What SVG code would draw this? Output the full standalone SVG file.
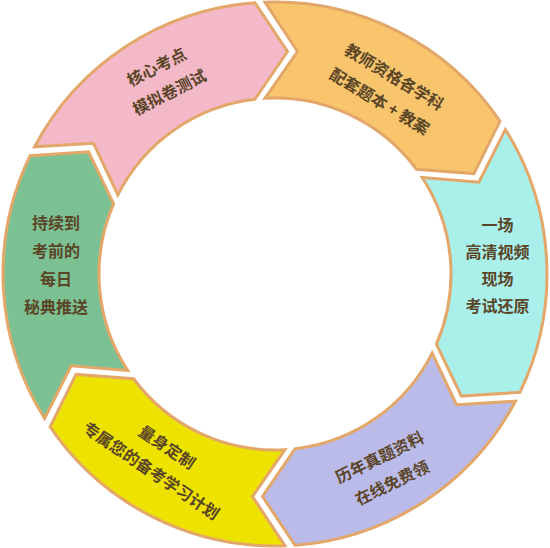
<svg xmlns="http://www.w3.org/2000/svg" xmlns:xlink="http://www.w3.org/1999/xlink" width="550" height="548" viewBox="0 0 550 548">
<style>
.seg{stroke:#E4A76A;stroke-width:3;stroke-linejoin:miter}
.t{font-family:"Noto Sans CJK SC","Noto Sans CJK TC",sans-serif;font-size:16px;font-weight:700;fill:#5A4527;text-anchor:middle}
</style>
<defs>
<path id="seg" d="M -10,-271.8 A 272 272 0 0 1 224.91,-152.95 L 198.94,-100.42 L 141.43,-104.75 A 176 176 0 0 0 -10,-175.7 L 22.5,-222.5 Z"/>
</defs>
<rect width="550" height="548" fill="#ffffff"/>
<g id="pink">
<use xlink:href="#seg" class="seg" fill="#F4B9C8" transform="translate(275 274) rotate(-60)"/>
<g transform="translate(163 79.7) rotate(-27)">
<text class="t" x="0" y="-8.3">核心考点</text>
<text class="t" x="0" y="20.2">模拟卷测试</text>
</g>
</g>
<g id="orange">
<use xlink:href="#seg" class="seg" fill="#F8C56D" transform="translate(275 274)"/>
<g transform="translate(387 89.2) rotate(31)">
<text class="t" x="0" y="-8.3">教师资格各学科</text>
<text class="t" x="0" y="20.2">配套题本 + 教案</text>
</g>
</g>
<g id="cyan">
<use xlink:href="#seg" class="seg" fill="#AAF0EA" transform="translate(275 274) rotate(60)"/>
<text class="t" x="497.5" y="231">一场</text>
<text class="t" x="497.5" y="258">高清视频</text>
<text class="t" x="497.5" y="285">现场</text>
<text class="t" x="497.5" y="312">考试还原</text>
</g>
<g id="purple">
<use xlink:href="#seg" class="seg" fill="#BABBE8" transform="translate(275 274) rotate(120)"/>
<g transform="translate(385.8 470.1) rotate(-26)">
<text class="t" x="0" y="-8.3">历年真题资料</text>
<text class="t" x="0" y="20.2">在线免费领</text>
</g>
</g>
<g id="yellow">
<use xlink:href="#seg" class="seg" fill="#EEE300" transform="translate(275 274) rotate(180)"/>
<g transform="translate(159.2 458.9) rotate(34)">
<text class="t" x="0" y="-8.3">量身定制</text>
<text class="t" x="0" y="20.2">专属您的备考学习计划</text>
</g>
</g>
<g id="green">
<use xlink:href="#seg" class="seg" fill="#7CC194" transform="translate(275 274) rotate(240)"/>
<text class="t" x="56" y="229">持续到</text>
<text class="t" x="56" y="257">考前的</text>
<text class="t" x="56" y="285">每日</text>
<text class="t" x="56" y="313">秘典推送</text>
</g>
</svg>
